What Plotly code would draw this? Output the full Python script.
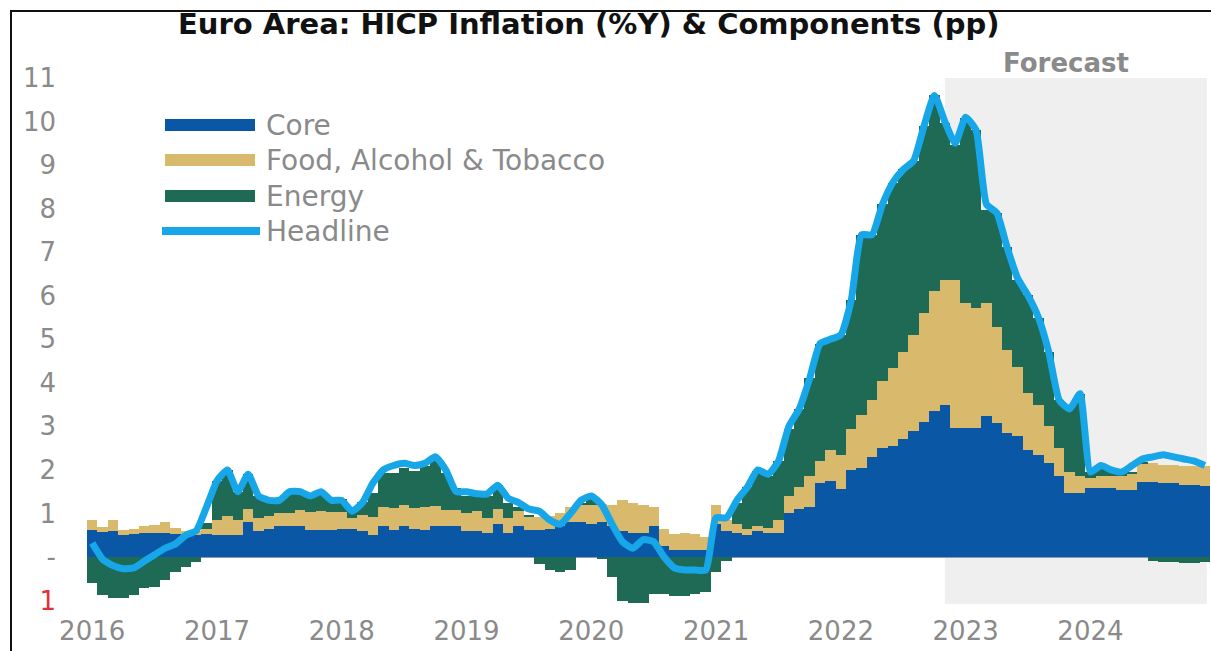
import pandas as pd
import plotly.graph_objects as go

# Monthly contributions to euro-area HICP inflation (pp), Jan 2016 - Dec 2024
months = pd.date_range("2016-01-01", periods=108, freq="MS")
forecast_start = "2022-11"

core = [
    0.62, 0.58, 0.60, 0.50, 0.52, 0.55, 0.55, 0.55, 0.52, 0.50, 0.50, 0.52,   # 2016
    0.50, 0.50, 0.50, 0.80, 0.60, 0.65, 0.72, 0.72, 0.70, 0.62, 0.62, 0.62,   # 2017
    0.65, 0.65, 0.60, 0.50, 0.70, 0.62, 0.70, 0.65, 0.62, 0.72, 0.70, 0.72,   # 2018
    0.60, 0.60, 0.55, 0.75, 0.55, 0.70, 0.62, 0.62, 0.65, 0.70, 0.80, 0.80,   # 2019
    0.75, 0.80, 0.70, 0.60, 0.55, 0.55, 0.70, 0.25, 0.15, 0.15, 0.15, 0.15,   # 2020
    0.75, 0.60, 0.55, 0.50, 0.60, 0.55, 0.55, 1.00, 1.10, 1.15, 1.70, 1.75,   # 2021
    1.55, 2.00, 2.05, 2.30, 2.50, 2.55, 2.70, 2.90, 3.10, 3.35, 3.49, 2.96,   # 2022
    2.96, 2.96, 3.23, 3.07, 2.84, 2.77, 2.46, 2.34, 2.15, 1.85, 1.46, 1.46,   # 2023
    1.58, 1.58, 1.58, 1.54, 1.54, 1.73, 1.73, 1.69, 1.69, 1.66, 1.66, 1.62,   # 2024
]

food = [
    0.23, 0.10, 0.25, 0.12, 0.12, 0.15, 0.18, 0.25, 0.15, 0.10, 0.10, 0.12,
    0.36, 0.45, 0.36, 0.30, 0.30, 0.28, 0.30, 0.30, 0.38, 0.42, 0.44, 0.42,
    0.38, 0.25, 0.36, 0.42, 0.44, 0.50, 0.50, 0.48, 0.52, 0.44, 0.38, 0.36,
    0.40, 0.45, 0.35, 0.35, 0.35, 0.35, 0.30, 0.30, 0.30, 0.30, 0.35, 0.40,
    0.45, 0.42, 0.50, 0.70, 0.70, 0.65, 0.45, 0.40, 0.38, 0.40, 0.38, 0.30,
    0.45, 0.25, 0.20, 0.15, 0.12, 0.12, 0.30, 0.40, 0.50, 0.70, 0.50, 0.70,
    0.80, 0.95, 1.20, 1.30, 1.55, 1.80, 2.00, 2.20, 2.50, 2.75, 2.88, 3.41,
    2.87, 2.75, 2.60, 2.22, 1.92, 1.60, 1.30, 1.15, 0.85, 0.65, 0.50, 0.39,
    0.23, 0.27, 0.27, 0.31, 0.36, 0.42, 0.42, 0.42, 0.42, 0.42, 0.42, 0.46,
]

energy = [
    -0.60, -0.87, -0.95, -0.95, -0.87, -0.72, -0.68, -0.53, -0.34, -0.22, -0.11, 0.15,
    0.89, 1.05, 0.64, 0.80, 0.50, 0.37, 0.28, 0.48, 0.42, 0.36, 0.44, 0.26,
    0.30, 0.20, 0.30, 0.55, 0.80, 0.80, 0.85, 0.85, 0.95, 1.05, 0.85, 0.50,
    0.40, 0.40, 0.50, 0.55, 0.35, 0.10, 0.05, -0.15, -0.30, -0.35, -0.30, 0.05,
    0.15, -0.05, -0.45, -1.00, -1.05, -1.05, -0.85, -0.85, -0.90, -0.90, -0.85, -0.80,
    -0.35, -0.10, 0.50, 0.95, 1.25, 1.20, 1.35, 1.55, 1.80, 2.25, 2.70, 2.55,
    2.75, 2.95, 4.15, 3.80, 4.05, 4.25, 4.20, 4.00, 4.30, 4.50, 3.60, 3.10,
    4.25, 4.10, 2.15, 2.60, 2.35, 2.00, 2.25, 2.00, 1.70, 1.10, 1.45, 1.90,
    0.15, 0.20, 0.12, 0.08, 0.05, 0.02, -0.10, -0.12, -0.12, -0.13, -0.13, -0.12,
]

headline = [
    0.32, -0.05, -0.20, -0.27, -0.25, -0.10, 0.05, 0.20, 0.30, 0.50, 0.60, 1.15,
    1.75, 2.00, 1.50, 1.90, 1.40, 1.30, 1.30, 1.50, 1.50, 1.40, 1.50, 1.30,
    1.30, 1.05, 1.25, 1.70, 2.00, 2.10, 2.15, 2.10, 2.15, 2.30, 2.00, 1.50,
    1.50, 1.45, 1.45, 1.65, 1.35, 1.25, 1.10, 1.05, 0.85, 0.75, 1.00, 1.30,
    1.40, 1.20, 0.75, 0.35, 0.20, 0.40, 0.35, 0.00, -0.25, -0.30, -0.30, -0.30,
    0.90, 0.90, 1.30, 1.60, 2.00, 1.90, 2.20, 3.00, 3.40, 4.10, 4.90, 5.00,
    5.10, 5.90, 7.40, 7.40, 8.10, 8.60, 8.90, 9.10, 9.90, 10.60, 10.00, 9.50,
    10.10, 9.80, 8.10, 7.90, 7.10, 6.40, 6.00, 5.50, 4.70, 3.60, 3.40, 3.75,
    1.95, 2.10, 2.00, 1.95, 2.10, 2.25, 2.30, 2.35, 2.30, 2.25, 2.20, 2.10,
]

series_names = ["Core", "Food, Alcohol & Tobacco", "Energy", "Headline"]
year_labels = [str(y) for y in range(2016, 2025)]
y_ticks = list(range(-1, 12))

COL_CORE = "#0a58a5"
COL_FOOD = "#d9b96b"
COL_ENERGY = "#1f6a55"
COL_HEAD = "#17a6e8"
GREY = "#8a8a8a"

W, H = 1211, 651
L, R, T, B = 87, 1, 78, 47
PW, PH = W - L - R, H - T - B


def px(x):
    return (x - L) / PW


def py(y):
    return (H - B - y) / PH


pos = list(range(len(months)))
labels = [m.strftime("%b %Y") for m in months]
fc_idx = list(months.strftime("%Y-%m")).index(forecast_start)

fig = go.Figure()
for name, vals, col in [(series_names[0], core, COL_CORE),
                        (series_names[1], food, COL_FOOD),
                        (series_names[2], energy, COL_ENERGY)]:
    fig.add_trace(go.Bar(x=pos, y=vals, name=name, width=1.0,
                         marker=dict(color=col, line=dict(width=0)),
                         customdata=labels,
                         hovertemplate="%{customdata}: %{y:.2f}<extra>" + name + "</extra>"))

fig.add_trace(go.Scatter(x=pos, y=headline, name=series_names[3], mode="lines",
                         line=dict(color=COL_HEAD, width=7, shape="spline", smoothing=0.5),
                         customdata=labels,
                         hovertemplate="%{customdata}: %{y:.1f}<extra>Headline</extra>"))

shapes = [
    # forecast shading
    dict(type="rect", xref="x", yref="paper", x0=fc_idx, x1=len(pos) - 0.8,
         y0=0, y1=1, fillcolor="#efefef", line=dict(width=0), layer="below"),
    # outer frame
    dict(type="rect", xref="paper", yref="paper", x0=px(11), x1=px(1216),
         y0=py(656), y1=py(11), line=dict(color="#111111", width=2),
         fillcolor="rgba(0,0,0,0)"),
]

annotations = [
    dict(text="<b>Euro Area: HICP Inflation (%Y) & Components (pp)</b>",
         xref="paper", yref="paper", x=px(588), y=py(24), showarrow=False,
         font=dict(family="DejaVu Sans", size=29, color="#111111"),
         xanchor="center", yanchor="middle"),
    dict(text="<b>Forecast</b>", xref="paper", yref="paper", x=px(1066), y=py(63),
         showarrow=False, font=dict(family="DejaVu Sans", size=26, color=GREY),
         xanchor="center", yanchor="middle"),
]

# legend swatches and labels
legend_rows = [(series_names[0], COL_CORE, 125), (series_names[1], COL_FOOD, 160),
               (series_names[2], COL_ENERGY, 196)]
for name, col, yy in legend_rows:
    shapes.append(dict(type="line", xref="paper", yref="paper", x0=px(165), x1=px(255),
                       y0=py(yy), y1=py(yy), line=dict(color=col, width=12)))
    annotations.append(dict(text=name, xref="paper", yref="paper", x=px(264), y=py(yy),
                            showarrow=False, xanchor="left", yanchor="middle",
                            font=dict(family="DejaVu Sans", size=28, color=GREY)))
shapes.append(dict(type="line", xref="paper", yref="paper", x0=px(162), x1=px(260),
                   y0=py(231), y1=py(231), line=dict(color=COL_HEAD, width=8)))
annotations.append(dict(text=series_names[3], xref="paper", yref="paper", x=px(264), y=py(231),
                        showarrow=False, xanchor="left", yanchor="middle",
                        font=dict(family="DejaVu Sans", size=28, color=GREY)))

y_text = []
for v in y_ticks:
    if v < 0:
        y_text.append("<span style='color:#e0303a'>%d</span>" % abs(v))
    elif v == 0:
        y_text.append("-")
    else:
        y_text.append(str(v))

fig.update_layout(
    width=W, height=H,
    margin=dict(l=L, r=R, t=T, b=B, pad=0, autoexpand=False),
    barmode="relative", bargap=0,
    plot_bgcolor="white", paper_bgcolor="white",
    showlegend=False,
    shapes=shapes, annotations=annotations,
    font=dict(family="DejaVu Sans", color=GREY),
    xaxis=dict(range=[-0.5, len(pos) - 0.5], tickmode="array",
               tickvals=[i for i in pos if months[i].month == 1],
               ticktext=year_labels, showgrid=False, zeroline=False,
               ticks="", showline=False, ticklabelstandoff=9, automargin=False,
               tickfont=dict(family="DejaVu Sans", size=26, color=GREY)),
    yaxis=dict(range=[-1.08, 11.0], tickmode="array", tickvals=y_ticks, ticktext=y_text,
               showgrid=False, zeroline=True, zerolinecolor="#8d9aa6", zerolinewidth=2,
               ticks="", showline=False, ticklabelstandoff=30, automargin=False,
               tickfont=dict(family="DejaVu Sans", size=26, color=GREY)),
)

fig.write_html("out.html")
